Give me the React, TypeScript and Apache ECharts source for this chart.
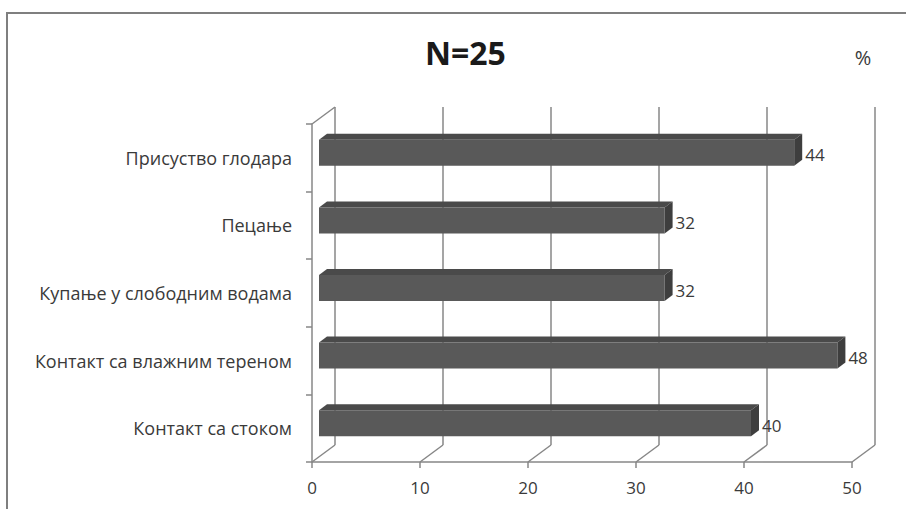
import React, { useEffect, useRef } from 'react';
import * as echarts from 'echarts';

// ---- data ----
const categories: string[] = [
  'Контакт са стоком',
  'Контакт са влажним тереном',
  'Купање у слободним водама',
  'Пецање',
  'Присуство глодара',
];
const values: number[] = [40, 48, 32, 32, 44];
const xTicks: number[] = [0, 10, 20, 30, 40, 50];
const titleText = 'N=25';
const unitText = '%';

// ---- layout / style constants ----
const W = 906;
const H = 509;
const GRID_LEFT = 312;
const GRID_RIGHT = 54;
const GRID_TOP = 124;
const GRID_BOTTOM = 47;
const DEPTH_X = 23;
const DEPTH_Y = -17;
const LINE_COLOR = '#878787';
const TEXT_COLOR = '#3a3a3a';
const FONT = '"Open Sans", "Noto Sans", sans-serif';

export default function App() {
  const ref = useRef<HTMLDivElement>(null);

  useEffect(() => {
    if (!ref.current) return;
    const chart = echarts.init(ref.current, undefined, { renderer: 'svg' });

    const option: any = {
      animation: false,
      backgroundColor: '#ffffff',
      title: {
        text: titleText,
        left: 425,
        top: 36,
        padding: 0,
        textStyle: {
          fontFamily: FONT,
          fontSize: 32,
          fontWeight: 'bold',
          color: '#1a1a1a',
        },
      },
      graphic: [
        {
          type: 'rect',
          silent: true,
          shape: { x: 7, y: 13, width: 1200, height: 1200 },
          style: { fill: 'none', stroke: '#7f7f7f', lineWidth: 2 },
          z: 0,
        },
        {
          type: 'text',
          x: 863,
          y: 57,
          style: {
            text: unitText,
            fontFamily: FONT,
            fontSize: 20,
            fill: TEXT_COLOR,
            textAlign: 'center',
            textVerticalAlign: 'middle',
          },
        },
      ],
      grid: [
        {
          left: GRID_LEFT,
          right: GRID_RIGHT,
          top: GRID_TOP,
          bottom: GRID_BOTTOM,
        },
        {
          left: GRID_LEFT + DEPTH_X,
          right: GRID_RIGHT - DEPTH_X,
          top: GRID_TOP + DEPTH_Y,
          bottom: GRID_BOTTOM - DEPTH_Y,
        },
      ],
      xAxis: [
        {
          type: 'value',
          gridIndex: 0,
          min: 0,
          max: 50,
          interval: 10,
          axisLine: { show: true, lineStyle: { color: LINE_COLOR, width: 1.5 } },
          axisTick: { show: true, length: 6, lineStyle: { color: LINE_COLOR, width: 1.5 } },
          axisLabel: {
            margin: 17,
            fontFamily: FONT,
            fontSize: 17,
            color: TEXT_COLOR,
            formatter: (v: number) => String(v),
          },
          splitLine: { show: false },
        },
        {
          type: 'value',
          gridIndex: 1,
          min: 0,
          max: 50,
          interval: 10,
          axisLine: { show: false },
          axisTick: { show: false },
          axisLabel: { show: false },
          splitLine: { show: true, lineStyle: { color: LINE_COLOR, width: 1.5 } },
        },
      ],
      yAxis: [
        {
          type: 'category',
          gridIndex: 0,
          data: categories,
          axisLine: { show: true, lineStyle: { color: LINE_COLOR, width: 1.5 } },
          axisTick: { show: true, length: 6, lineStyle: { color: LINE_COLOR, width: 1.5 } },
          axisLabel: {
            margin: 20,
            fontFamily: FONT,
            fontSize: 18,
            color: TEXT_COLOR,
          },
          splitLine: { show: false },
        },
        {
          type: 'category',
          gridIndex: 1,
          data: categories,
          show: false,
        },
      ],
      series: [
        {
          // floor / wall diagonals
          type: 'custom',
          xAxisIndex: 0,
          yAxisIndex: 0,
          silent: true,
          z: 1,
          data: xTicks.map((t) => [t, 0]),
          encode: { x: 0, y: 1 },
          renderItem: (params: any, api: any) => {
            const cs = params.coordSys;
            const v = api.value(0);
            const px = api.coord([v, 0])[0];
            const bottom = cs.y + cs.height;
            const style = { stroke: LINE_COLOR, lineWidth: 1.5 };
            const children: any[] = [
              {
                type: 'line',
                shape: { x1: px, y1: bottom, x2: px + DEPTH_X, y2: bottom + DEPTH_Y },
                style,
              },
            ];
            if (v === 0) {
              children.push({
                type: 'line',
                shape: { x1: px, y1: cs.y, x2: px + DEPTH_X, y2: cs.y + DEPTH_Y },
                style,
              });
            }
            return { type: 'group', children };
          },
        },
        {
          // 3D bars
          type: 'custom',
          xAxisIndex: 0,
          yAxisIndex: 0,
          z: 5,
          data: values.map((v, i) => [v, i]),
          encode: { x: 0, y: 1 },
          renderItem: (params: any, api: any) => {
            const v = api.value(0);
            const ci = api.value(1);
            const p0 = api.coord([0, ci]);
            const p1 = api.coord([v, ci]);
            const band = api.size([0, 1])[1];
            const h = band * 0.385;
            const fx = 7;
            const fy = -5;
            const bx = 8;
            const by = -6;
            const x0 = p0[0] + fx;
            const x1 = p1[0] + fx;
            const yc = p0[1] + fy;
            const yt = yc - h / 2;
            const yb = yc + h / 2;
            return {
              type: 'group',
              children: [
                {
                  type: 'polygon',
                  shape: {
                    points: [
                      [x0, yt],
                      [x1, yt],
                      [x1 + bx, yt + by],
                      [x0 + bx, yt + by],
                    ],
                  },
                  style: { fill: '#4a4a4a' },
                },
                {
                  type: 'rect',
                  shape: { x: x0, y: yt, width: x1 - x0, height: yb - yt },
                  style: { fill: '#595959' },
                },
                {
                  type: 'polygon',
                  shape: {
                    points: [
                      [x1, yt],
                      [x1 + bx, yt + by],
                      [x1 + bx, yb + by],
                      [x1, yb],
                    ],
                  },
                  style: { fill: '#3e3e3e' },
                },
                {
                  type: 'text',
                  x: x1 + bx + 3,
                  y: yc + 2,
                  style: {
                    text: String(v),
                    fontFamily: FONT,
                    fontSize: 17,
                    fill: TEXT_COLOR,
                    textAlign: 'left',
                    textVerticalAlign: 'middle',
                  },
                },
              ],
            };
          },
        },
      ],
    };

    chart.setOption(option);
    return () => {
      chart.dispose();
    };
  }, []);

  return (
    <div
      ref={ref}
      style={{ position: 'fixed', left: 0, top: 0, width: W, height: H }}
    />
  );
}
